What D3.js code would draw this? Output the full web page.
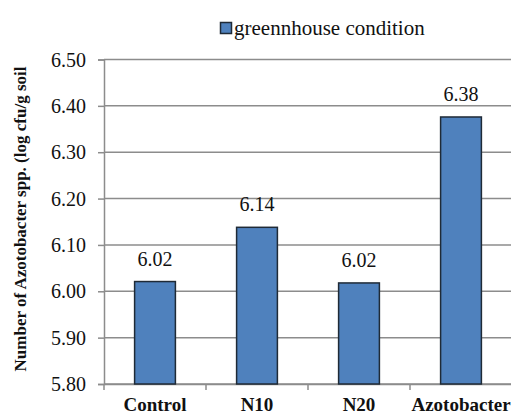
<!DOCTYPE html>
<html><head><meta charset="utf-8">
<script src="https://cdn.jsdelivr.net/npm/d3@7"></script>
</head><body style="margin:0">
<script>
const categories = ["Control", "N10", "N20", "Azotobacter"];
const values = [6.021, 6.138, 6.018, 6.376];
const yTicks = [5.8, 5.9, 6.0, 6.1, 6.2, 6.3, 6.4, 6.5];
const seriesName = "greennhouse condition";
const yTitle = "Number of Azotobacter spp. (log cfu/g  soil";

const W = 511, H = 413;
const FONT = '"Liberation Serif"';
const svg = d3.select("body").append("svg").attr("width", W).attr("height", H).style("display", "block");

const x = d3.scaleBand().domain(categories).range([104, 512]).paddingInner(0.6).paddingOuter(0.3);
const y = d3.scaleLinear().domain([5.8, 6.5]).range([384, 59.5]);

// gridlines
svg.append("g").selectAll("line").data(yTicks).join("line")
  .attr("x1", 104).attr("x2", W).attr("y1", d => y(d)).attr("y2", d => y(d))
  .attr("stroke", "#8c8c8c").attr("stroke-width", 1.5);

// y axis line and ticks
const ya = svg.append("g").attr("transform", "translate(104,0)")
  .call(d3.axisLeft(y).tickValues(yTicks).tickFormat("").tickSize(6));
ya.select(".domain").attr("stroke", "#8c8c8c").attr("stroke-width", 1.5);
ya.selectAll(".tick line").attr("stroke", "#8c8c8c").attr("stroke-width", 1.5);
// y tick labels
svg.append("g").selectAll("text").data(yTicks).join("text")
  .attr("x", 86).attr("y", d => y(d)).attr("dy", "0.35em").attr("text-anchor", "end")
  .style("font-family", FONT).style("font-size", "20px").attr("fill", "#111")
  .text(d => d3.format(".2f")(d));

// x axis line
const xa = svg.append("g").attr("transform", "translate(0,384)")
  .call(d3.axisBottom(x).tickSize(0).tickFormat(""));
xa.select(".domain").attr("stroke", "#8c8c8c").attr("stroke-width", 1.5);
// x labels
svg.append("g").selectAll("text").data(categories).join("text")
  .attr("x", d => x(d) + x.bandwidth() / 2).attr("y", 410.5).attr("text-anchor", "middle")
  .style("font-family", FONT).style("font-size", "19px").style("font-weight", "bold").attr("fill", "#111")
  .text(d => d);
// category boundary ticks
svg.append("g").selectAll("line").data(categories.map((c, i) => 104 + i * x.step())).join("line")
  .attr("x1", d => d).attr("x2", d => d).attr("y1", 384).attr("y2", 390)
  .attr("stroke", "#8c8c8c").attr("stroke-width", 1.5);

// bars
svg.append("g").selectAll("rect").data(categories).join("rect")
  .attr("x", d => x(d)).attr("width", x.bandwidth())
  .attr("y", (d, i) => y(values[i])).attr("height", (d, i) => y(5.8) - y(values[i]))
  .attr("fill", "#4f81bd").attr("stroke", "#1f2a36").attr("stroke-width", 1.5);

// value labels
svg.append("g").selectAll("text").data(categories).join("text")
  .attr("x", d => x(d) + x.bandwidth() / 2).attr("y", (d, i) => y(values[i]) - 16)
  .attr("text-anchor", "middle").style("font-family", FONT).style("font-size", "20px").attr("fill", "#111")
  .text((d, i) => d3.format(".2f")(values[i]));

// legend
svg.append("rect").attr("x", 220.5).attr("y", 22.5).attr("width", 11).attr("height", 11)
  .attr("fill", "#4f81bd").attr("stroke", "#1f2a36").attr("stroke-width", 1.5);
svg.append("text").attr("x", 234).attr("y", 35).style("font-family", FONT).style("font-size", "21px")
  .attr("fill", "#111").text(seriesName);

// y title
svg.append("text").attr("transform", "translate(26,219) rotate(-90)")
  .attr("text-anchor", "middle").style("font-family", FONT).style("font-size", "17px").style("font-weight", "bold")
  .attr("fill", "#111").text(yTitle);
</script>
</body></html>
